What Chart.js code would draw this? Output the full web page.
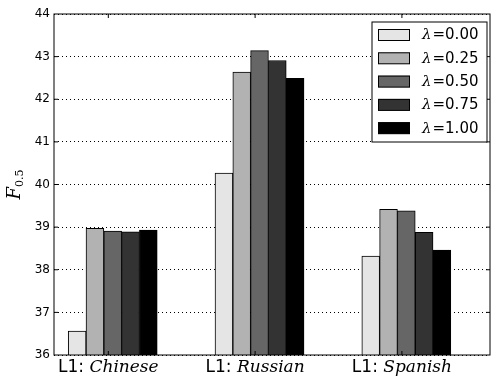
<!DOCTYPE html>
<html>
<head>
<meta charset="utf-8">
<script src="https://cdn.jsdelivr.net/npm/chart.js@4"></script>
<style>
  html, body { margin: 0; padding: 0; background: #fff; }
</style>
</head>
<body>
<canvas id="chart" width="494" height="378"></canvas>
<script>
// L1 groups and lambda settings
const languages = ['Chinese', 'Russian', 'Spanish'];
const lambdas = ['0.00', '0.25', '0.50', '0.75', '1.00'];
const barColors = ['#e5e5e5', '#b2b2b2', '#666666', '#333333', '#000000'];

// F0.5 per lambda, in the order Chinese, Russian, Spanish
const lambda000 = [36.56, 40.27, 38.32];
const lambda025 = [38.97, 42.64, 39.42];
const lambda050 = [38.91, 43.14, 39.38];
const lambda075 = [38.89, 42.91, 38.88];
const lambda100 = [38.93, 42.49, 38.46];
const scores = [lambda000, lambda025, lambda050, lambda075, lambda100];

const yMin = 36, yMax = 44, yStep = 1;

// bars sit a little right of the tick, like the original plot
const BAR_SHIFT = 0.03;

const SANS = '"DejaVu Sans", sans-serif';
const SERIF = '"DejaVu Serif", serif';

const datasets = scores.map((vals, k) => ({
    label: 'λ=' + lambdas[k],
    data: vals.map((v, i) => ({ x: i + BAR_SHIFT, y: v })),
    backgroundColor: barColors[k],
    borderColor: '#000',
    borderWidth: 1,
    borderSkipped: 'bottom',
    barThickness: 17.8
}));

// frame, inward ticks, mixed-font labels and the boxed legend
const decorations = {
    id: 'decorations',
    afterDraw(chart) {
        const ctx = chart.ctx;
        const { left, right, top, bottom } = chart.chartArea;
        const xs = chart.scales.x, ys = chart.scales.y;
        ctx.save();

        // axes frame
        ctx.strokeStyle = '#000';
        ctx.lineWidth = 1;
        ctx.strokeRect(left, top, right - left, bottom - top);

        // inward ticks
        ctx.beginPath();
        for (let v = yMin + yStep; v < yMax; v += yStep) {
            const y = ys.getPixelForValue(v);
            ctx.moveTo(left, y); ctx.lineTo(left + 4, y);
            ctx.moveTo(right, y); ctx.lineTo(right - 4, y);
        }
        languages.forEach((_, i) => {
            const x = xs.getPixelForValue(i);
            ctx.moveTo(x, bottom); ctx.lineTo(x, bottom - 4);
            ctx.moveTo(x, top); ctx.lineTo(x, top + 4);
        });
        ctx.stroke();

        // category labels: "L1:" sans + language in italic serif
        ctx.fillStyle = '#000';
        ctx.textBaseline = 'alphabetic';
        ctx.textAlign = 'left';
        languages.forEach((name, i) => {
            const x = xs.getPixelForValue(i);
            ctx.font = '17px ' + SANS;
            const pre = 'L1: ';
            const w1 = ctx.measureText(pre).width;
            ctx.font = 'italic 17px ' + SERIF;
            const w2 = ctx.measureText(name).width;
            const x0 = x - (w1 + w2) / 2;
            ctx.font = '17px ' + SANS;
            ctx.fillText(pre, x0, 372);
            ctx.font = 'italic 17px ' + SERIF;
            ctx.fillText(name, x0 + w1, 372);
        });

        // y title F_{0.5}
        ctx.save();
        ctx.translate(20, (top + bottom) / 2);
        ctx.rotate(-Math.PI / 2);
        ctx.font = 'italic 18px ' + SERIF;
        const wF = ctx.measureText('F').width;
        ctx.font = '11px ' + SERIF;
        const wS = ctx.measureText('0.5').width;
        ctx.font = 'italic 18px ' + SERIF;
        ctx.fillText('F', -(wF + wS) / 2, 0);
        ctx.font = '11px ' + SERIF;
        ctx.fillText('0.5', -(wF + wS) / 2 + wF, 3);
        ctx.restore();

        // legend box
        const lx = 372, ly = 22, lw = 115, lh = 120;
        ctx.fillStyle = '#fff';
        ctx.fillRect(lx, ly, lw, lh);
        ctx.strokeStyle = '#000';
        ctx.strokeRect(lx, ly, lw, lh);
        chart.data.datasets.forEach((ds, k) => {
            const sy = 29 + k * 23.3;
            ctx.fillStyle = ds.backgroundColor;
            ctx.fillRect(378, sy, 32, 11.7);
            ctx.strokeStyle = '#000';
            ctx.strokeRect(378.5, sy + 0.5, 31, 11);
            ctx.fillStyle = '#000';
            ctx.textBaseline = 'middle';
            ctx.font = 'italic 15px ' + SERIF;
            ctx.fillText('λ', 422, sy + 6.5);
            const wl = ctx.measureText('λ').width;
            ctx.font = '15px ' + SANS;
            ctx.fillText('=' + lambdas[k], 423 + wl, sy + 6.5);
        });

        ctx.restore();
    }
};

new Chart(document.getElementById('chart'), {
    type: 'bar',
    data: { datasets },
    options: {
        responsive: false,
        animation: false,
        devicePixelRatio: 1,
        layout: { padding: { left: 0, top: 14, right: 4, bottom: 0 } },
        plugins: { legend: { display: false }, tooltip: { enabled: false } },
        scales: {
            x: {
                type: 'linear',
                offset: false,
                min: -0.37,
                max: 2.6,
                grid: { display: false },
                border: { display: false },
                ticks: { display: false },
                afterFit: s => { s.height = 23; }
            },
            y: {
                min: yMin,
                max: yMax,
                z: 1,
                ticks: {
                    stepSize: yStep,
                    color: '#000',
                    padding: 4,
                    font: { family: 'DejaVu Sans', size: 12 }
                },
                grid: { color: '#000', lineWidth: 1, drawTicks: false, borderDash: [1, 3] },
                border: { display: false, dash: [1, 3] },
                afterFit: s => { s.width = 54; }
            }
        }
    },
    plugins: [decorations]
});
</script>
</body>
</html>
